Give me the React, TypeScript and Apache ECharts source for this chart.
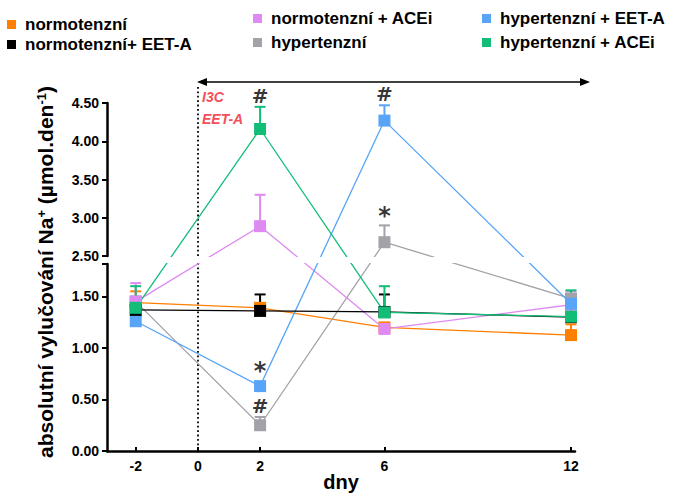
import React, { useEffect, useRef } from "react";
import * as echarts from "echarts";

// ---------- data ----------
const days = [-2, 2, 6, 12];
const xTicks = [-2, 0, 2, 6, 12];
const lowerTicks = [0, 0.5, 1, 1.5];
const upperTicks = [2.5, 3, 3.5, 4, 4.5];

const nameNorm = "normotenzní";
const nameNormEet = "normotenzní+ EET-A";
const nameNormAce = "normotenzní + ACEi";
const nameHyp = "hypertenzní";
const nameHypEet = "hypertenzní + EET-A";
const nameHypAce = "hypertenzní + ACEi";

const normMean = [1.44, 1.39, 1.2, 1.125];
const normTop = [1.55, 1.43, 1.24, 1.23];
const normEetMean = [1.37, 1.36, 1.35, 1.3];
const normEetTop = [1.42, 1.52, 1.52, 1.33];
const normAceMean = [1.45, 2.89, 1.185, 1.42];
const normAceTop = [1.63, 3.3, 1.21, 1.55];
const hypMean = [1.45, 0.25, 2.68, 1.48];
const hypTop = [1.5, 0.33, 2.9, 1.52];
const hypEetMean = [1.26, 0.63, 4.27, 1.43];
const hypEetTop = [1.3, 0.66, 4.47, 1.46];
const hypAceMean = [1.39, 4.16, 1.345, 1.305];
const hypAceTop = [1.6, 4.45, 1.6, 1.56];

// significance marks: x, anchor value, symbol
const markX = [2, 2, 2, 6, 6];
const markY = [4.45, 0.69, 0.33, 4.47, 2.9];
const markText = ["#", "*", "#", "#", "*"];

// ---------- layout ----------
const FONT = "'Liberation Sans', Arial, sans-serif";
const PLOT_LEFT = 107;
const PLOT_RIGHT = 575;
const UP_TOP = 103;
const UP_BOTTOM = 256;
const LOW_TOP = 264;
const LOW_BOTTOM = 451;
const X_MIN = -2.924;
const X_MAX = 12.129;
const LOW_MIN = 0;
const LOW_MAX = 1.8155;
const UP_MIN = 2.5;
const UP_MAX = 4.5;

const lowScale = (LOW_BOTTOM - LOW_TOP) / (LOW_MAX - LOW_MIN);
const upScale = (UP_BOTTOM - UP_TOP) / (UP_MAX - UP_MIN);
// display coordinate = pixels above lower baseline
const toDisp = (v: number) =>
  v <= LOW_MAX ? (v - LOW_MIN) * lowScale : LOW_BOTTOM - UP_BOTTOM + (v - UP_MIN) * upScale;
const xPx = (x: number) => PLOT_LEFT + ((x - X_MIN) / (X_MAX - X_MIN)) * (PLOT_RIGHT - PLOT_LEFT);

const COLORS: Record<string, string> = {
  [nameNorm]: "#FF8000",
  [nameNormEet]: "#000000",
  [nameNormAce]: "#DE8AF2",
  [nameHyp]: "#A2A2A8",
  [nameHypEet]: "#58A4F7",
  [nameHypAce]: "#12BD78",
};

const groups = [
  { name: nameNorm, mean: normMean, top: normTop },
  { name: nameHyp, mean: hypMean, top: hypTop },
  { name: nameNormAce, mean: normAceMean, top: normAceTop },
  { name: nameHypEet, mean: hypEetMean, top: hypEetTop },
  { name: nameNormEet, mean: normEetMean, top: normEetTop },
  { name: nameHypAce, mean: hypAceMean, top: hypAceTop },
];

export default function App() {
  const ref = useRef<HTMLDivElement>(null);
  useEffect(() => {
    if (!ref.current) return;
    const chart = echarts.init(ref.current, undefined, { renderer: "svg" });

    const series: any[] = [];
    groups.forEach((g) => {
      const color = COLORS[g.name];
      series.push({
        type: "custom",
        name: g.name + " err",
        xAxisIndex: 2,
        yAxisIndex: 2,
        encode: { x: 0, y: [1, 2] },
        silent: true,
        data: days.map((d, i) => [d, toDisp(g.mean[i]), toDisp(g.top[i])]),
        renderItem: (params: any, api: any) => {
          const p0 = api.coord([api.value(0), api.value(1)]);
          const p1 = api.coord([api.value(0), api.value(2)]);
          return {
            type: "group",
            children: [
              { type: "line", shape: { x1: p0[0], y1: p0[1], x2: p1[0], y2: p1[1] }, style: { stroke: color, lineWidth: 2 } },
              { type: "line", shape: { x1: p1[0] - 5.5, y1: p1[1], x2: p1[0] + 5.5, y2: p1[1] }, style: { stroke: color, lineWidth: 2 } },
            ],
          };
        },
      });
      series.push({
        type: "line",
        name: g.name,
        xAxisIndex: 2,
        yAxisIndex: 2,
        data: days.map((d, i) => [d, toDisp(g.mean[i])]),
        symbol: "rect",
        symbolSize: 12,
        showSymbol: true,
        color,
        itemStyle: { color },
        lineStyle: { color, width: 1.3 },
        emphasis: { disabled: true },
      });
    });

    series.push({
      type: "scatter",
      name: "marks",
      xAxisIndex: 2,
      yAxisIndex: 2,
      symbolSize: 0,
      silent: true,
      data: markX.map((x, i) => ({
        value: [x, toDisp(markY[i])],
        label: {
          show: true,
          position: "top",
          distance: markText[i] === "*" ? -3 : 1,
          formatter: markText[i],
          fontSize: markText[i] === "*" ? 24 : 20,
          fontWeight: "bold",
          fontFamily: "'DejaVu Sans', sans-serif",
          color: "#000",
        },
      })),
    });

    const legendBase = {
      orient: "vertical",
      icon: "rect",
      itemWidth: 9,
      itemHeight: 9,
      padding: 0,
      selectedMode: false,
      textStyle: { fontSize: 17, fontWeight: "bold", fontFamily: FONT, color: "#000", padding: [0, 0, 0, 4] },
    };

    const axisLabelStyle = { fontSize: 14, fontWeight: "bold", fontFamily: FONT, color: "#000" };
    const x0 = Math.round(xPx(0));
    const gridBase = { left: PLOT_LEFT, width: PLOT_RIGHT - PLOT_LEFT, outerBoundsMode: "none", containLabel: false };
    const spine = { show: true, onZero: false, lineStyle: { color: "#000", width: 2.5 } };

    chart.setOption({
      animation: false,
      backgroundColor: "#fff",
      legend: [
        { ...legendBase, data: [nameNorm, nameNormEet], left: 7, top: 16, itemGap: 3 },
        { ...legendBase, data: [nameNormAce, nameHyp], left: 253, top: 10, itemGap: 7 },
        { ...legendBase, data: [nameHypEet, nameHypAce], left: 482, top: 10, itemGap: 7 },
      ],
      grid: [
        { ...gridBase, top: LOW_TOP, height: LOW_BOTTOM - LOW_TOP },
        { ...gridBase, top: UP_TOP, height: UP_BOTTOM - UP_TOP },
        { ...gridBase, top: UP_TOP, height: LOW_BOTTOM - UP_TOP },
      ],
      xAxis: [
        {
          gridIndex: 0,
          type: "value",
          min: X_MIN,
          max: X_MAX,
          axisLine: spine,
          axisTick: { show: true, inside: true, length: 4, lineStyle: { color: "#000", width: 2 }, customValues: xTicks },
          axisLabel: { ...axisLabelStyle, margin: 8, customValues: xTicks, formatter: (v: number) => String(v) },
          splitLine: { show: false },
        },
        { gridIndex: 1, type: "value", min: X_MIN, max: X_MAX, show: false },
        { gridIndex: 2, type: "value", min: X_MIN, max: X_MAX, show: false },
      ],
      yAxis: [
        {
          gridIndex: 0,
          type: "value",
          min: LOW_MIN,
          max: LOW_MAX,
          axisLine: spine,
          axisTick: { show: true, length: 5, lineStyle: { color: "#000", width: 2 }, customValues: lowerTicks.concat([LOW_MAX]) },
          axisLabel: { ...axisLabelStyle, margin: 8, customValues: lowerTicks, formatter: (v: number) => v.toFixed(2) },
          splitLine: { show: false },
        },
        {
          gridIndex: 1,
          type: "value",
          min: UP_MIN,
          max: UP_MAX,
          axisLine: spine,
          axisTick: { show: true, length: 5, lineStyle: { color: "#000", width: 2 }, customValues: upperTicks },
          axisLabel: { ...axisLabelStyle, margin: 8, customValues: upperTicks, formatter: (v: number) => v.toFixed(2) },
          splitLine: { show: false },
        },
        { gridIndex: 2, type: "value", min: 0, max: LOW_BOTTOM - UP_TOP, show: false },
      ],
      graphic: [
        // gap of the broken axis
        { type: "rect", z: 100, shape: { x: PLOT_LEFT + 3, y: UP_BOTTOM + 1, width: 500, height: LOW_TOP - UP_BOTTOM - 2 }, style: { fill: "#fff" } },
        // dotted line at day 0
        { type: "line", z: 1, shape: { x1: x0, y1: 87, x2: x0, y2: LOW_BOTTOM }, style: { stroke: "#000", lineWidth: 1.8, lineDash: [1.8, 2.6], lineCap: "butt" } },
        // double arrow
        { type: "line", z: 101, shape: { x1: x0 + 4, y1: 82, x2: 585, y2: 82 }, style: { stroke: "#000", lineWidth: 1.6 } },
        { type: "polygon", z: 101, shape: { points: [[x0 - 1, 82], [x0 + 9, 78], [x0 + 9, 86]] }, style: { fill: "#000" } },
        { type: "polygon", z: 101, shape: { points: [[590, 82], [580, 78], [580, 86]] }, style: { fill: "#000" } },
        {
          type: "text", z: 101, x: x0 + 4, y: 97,
          style: { text: "I3C", fontSize: 14, fontWeight: "bold", fontStyle: "italic", fontFamily: FONT, fill: "#F2505A", verticalAlign: "middle" },
        },
        {
          type: "text", z: 101, x: x0 + 4, y: 119,
          style: { text: "EET-A", fontSize: 14, fontWeight: "bold", fontStyle: "italic", fontFamily: FONT, fill: "#F2505A", verticalAlign: "middle" },
        },
        {
          type: "text", z: 101, x: (PLOT_LEFT + PLOT_RIGHT) / 2, y: 482,
          style: { text: "dny", fontSize: 20, fontWeight: "bold", fontFamily: FONT, fill: "#000", align: "center", verticalAlign: "middle" },
        },
        {
          type: "text", z: 101, x: 45, y: 272, rotation: Math.PI / 2,
          style: {
            text: "absolutní vylučování Na{sup|+} (µmol.den{sup|-1})",
            fontSize: 21, fontWeight: "bold", fontFamily: FONT, fill: "#000",
            align: "center", verticalAlign: "middle",
            rich: { sup: { fontSize: 13, fontWeight: "bold", fontFamily: FONT, verticalAlign: "top", fill: "#000" } },
          },
        },
      ],
      series,
    });
    return () => chart.dispose();
  }, []);
  return <div ref={ref} style={{ position: "absolute", left: 0, top: 0, width: 692, height: 493 }} />;
}
